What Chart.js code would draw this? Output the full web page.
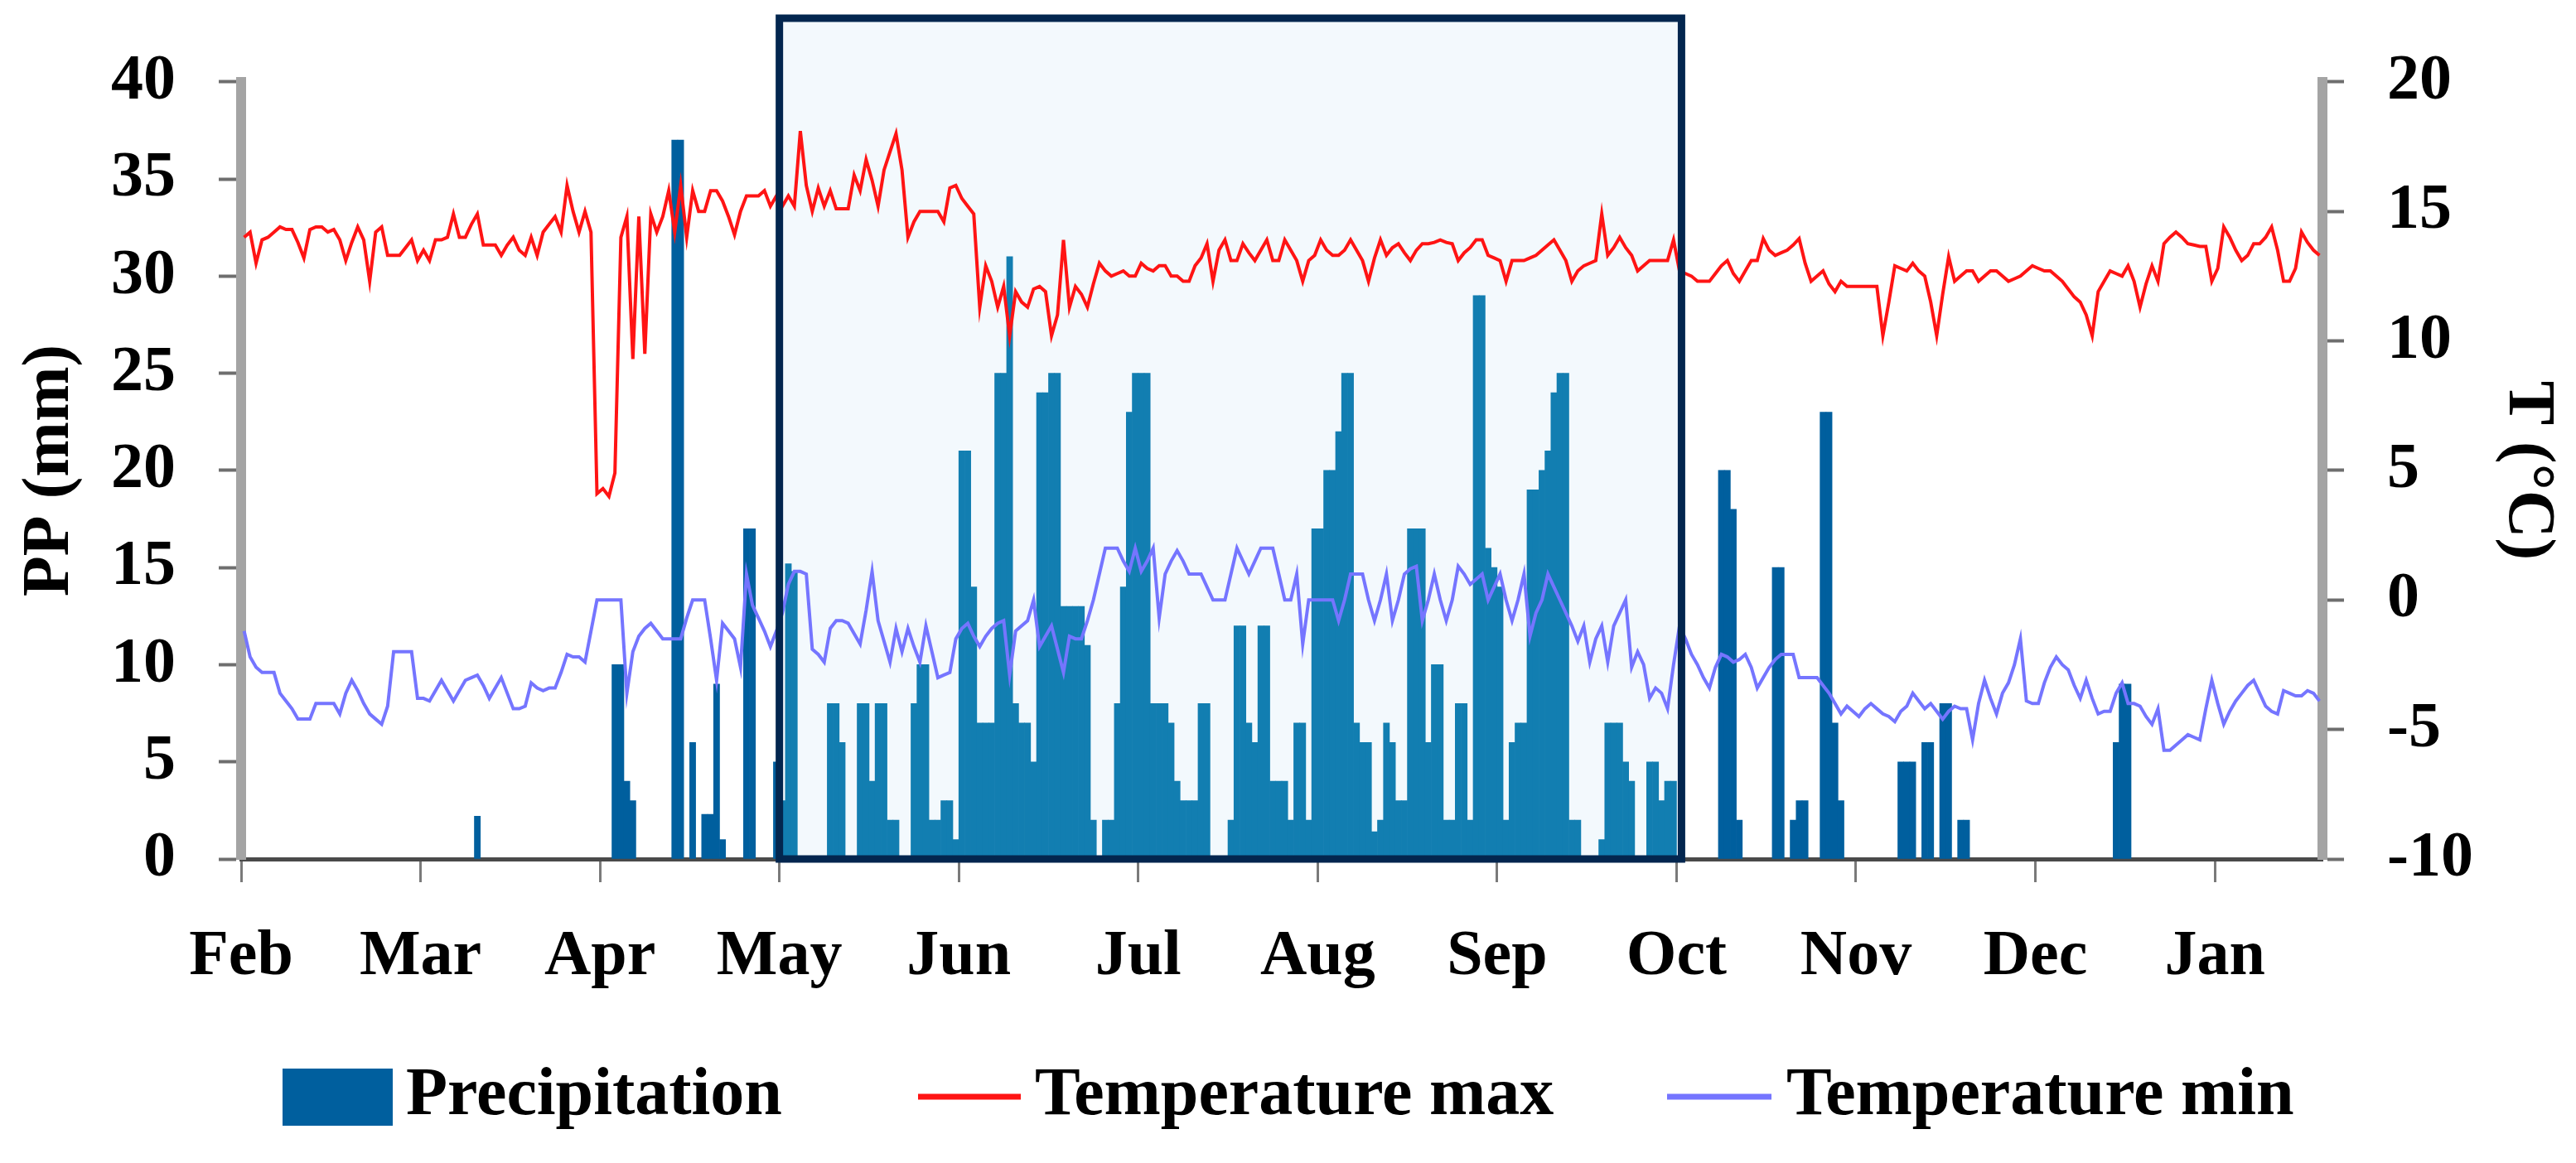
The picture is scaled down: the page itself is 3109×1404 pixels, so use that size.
<!DOCTYPE html>
<html lang="en">
<head>
<meta charset="UTF-8">
<title>Precipitation and temperature</title>
<script src="https://cdn.jsdelivr.net/npm/chart.js"></script>
<style>
  html, body { margin: 0; padding: 0; background: #fff; }
  canvas { display: block; }
</style>
</head>
<body>
<canvas id="climateChart" width="3109" height="1404"></canvas>
<script>
// x axis: one unit per day, a month label every 30 days
const dayCount = 348;
const months = ['Feb', 'Mar', 'Apr', 'May', 'Jun', 'Jul', 'Aug', 'Sep', 'Oct', 'Nov', 'Dec', 'Jan'];
const monthStart = [0, 30, 60, 90, 120, 150, 180, 210, 240, 270, 300, 330];

// highlighted period (May to Oct)
const boxFrom = 90;
const boxTo = 240;

// precipitation, only the days with rain (mm)
const rainDay = [39, 62, 63, 64, 65, 72, 73, 75, 77, 78, 79, 80, 84, 85, 89, 90, 91, 92,
  98, 99, 100, 103, 104, 105, 106, 107, 108, 109, 112, 113, 114, 115, 116, 117, 118, 119,
  120, 121, 122, 123, 124, 125, 126, 127, 128, 129, 130, 131, 132, 133, 134, 135, 136, 137,
  138, 139, 140, 141, 142, 144, 145, 146, 147, 148, 149, 150, 151, 152, 153, 154, 155, 156,
  157, 158, 159, 160, 161, 165, 166, 167, 168, 169, 170, 171, 172, 173, 174, 175, 176, 177,
  178, 179, 180, 181, 182, 183, 184, 185, 186, 187, 188, 189, 190, 191, 192, 193, 194, 195,
  196, 197, 198, 199, 200, 201, 202, 203, 204, 205, 206, 207, 208, 209, 210, 211, 212, 213,
  214, 215, 216, 217, 218, 219, 220, 221, 222, 223, 227, 228, 229, 230, 231, 232, 235, 236,
  237, 238, 239, 247, 248, 249, 250, 256, 257, 259, 260, 261, 264, 265, 266, 267, 277, 278,
  279, 281, 282, 284, 285, 287, 288, 313, 314, 315];
const rainMm = [2.2, 10, 10, 4, 3, 37, 37, 6, 2.3, 2.3, 9, 1, 17, 17, 5, 3, 15.2, 14.8,
  8, 8, 6, 8, 8, 4, 8, 8, 2, 2, 8, 10, 10, 2, 2, 3, 3, 1,
  21, 21, 14, 7, 7, 7, 25, 25, 31, 8, 7, 7, 5, 24, 24, 25, 25, 13,
  13, 13, 13, 11, 2, 2, 2, 8, 14, 23, 25, 25, 25, 8, 8, 8, 7, 4,
  3, 3, 3, 8, 8, 2, 12, 12, 7, 6, 12, 12, 4, 4, 4, 2, 7, 7,
  2, 17, 17, 20, 20, 22, 25, 25, 7, 6, 6, 1.4, 2, 7, 6, 3, 3, 17,
  17, 17, 6, 10, 10, 2, 2, 8, 8, 2, 29, 29, 16, 15, 14, 2, 6, 7,
  7, 19, 19, 20, 21, 24, 25, 25, 2, 2, 1, 7, 7, 7, 5, 4, 5, 5,
  3, 4, 4, 20, 20, 18, 2, 15, 15, 2, 3, 3, 23, 23, 7, 3, 5, 5,
  5, 6, 6, 8, 8, 2, 2, 6, 9, 9];

// daily maximum temperature (°C)
const tMax = [
  14.0, 14.2, 13.0, 13.9, 14.0, 14.2, 14.4, 14.3, 14.3, 13.8,
  13.2, 14.3, 14.4, 14.4, 14.2, 14.3, 13.9, 13.1, 13.8, 14.4,
  13.9, 12.3, 14.2, 14.4, 13.3, 13.3, 13.3, 13.6, 13.9, 13.1,
  13.5, 13.1, 13.9, 13.9, 14.0, 14.9, 14.0, 14.0, 14.5, 14.9,
  13.7, 13.7, 13.7, 13.3, 13.7, 14.0, 13.5, 13.3, 14.0, 13.3,
  14.2, 14.5, 14.8, 14.2, 16.0, 15.0, 14.2, 15.0, 14.2, 4.1,
  4.3, 4.0, 4.9, 14.0, 14.8, 9.3, 14.8, 9.5, 14.9, 14.2,
  14.8, 15.8, 14.2, 16.0, 14.0, 15.8, 15.0, 15.0, 15.8, 15.8,
  15.4, 14.8, 14.1, 15.0, 15.6, 15.6, 15.6, 15.8, 15.2, 15.6,
  15.2, 15.6, 15.2, 18.1, 16.0, 15.0, 15.9, 15.2, 15.8, 15.1,
  15.1, 15.1, 16.4, 15.8, 17.0, 16.2, 15.2, 16.6, 17.3, 18.0,
  16.6, 14.0, 14.6, 15.0, 15.0, 15.0, 15.0, 14.6, 15.9, 16.0,
  15.5, 15.2, 14.9, 11.3, 12.9, 12.3, 11.3, 12.1, 10.2, 11.9,
  11.5, 11.3, 12.0, 12.1, 11.9, 10.2, 11.0, 13.9, 11.3, 12.1,
  11.8, 11.3, 12.2, 13.0, 12.7, 12.5, 12.6, 12.7, 12.5, 12.5,
  13.0, 12.8, 12.7, 12.9, 12.9, 12.5, 12.5, 12.3, 12.3, 12.9,
  13.2, 13.75, 12.3, 13.5, 13.9, 13.1, 13.1, 13.75, 13.4, 13.1,
  13.5, 13.9, 13.1, 13.1, 13.9, 13.5, 13.1, 12.3, 13.1, 13.3,
  13.9, 13.5, 13.3, 13.3, 13.5, 13.9, 13.5, 13.1, 12.3, 13.2,
  13.9, 13.3, 13.6, 13.75, 13.4, 13.1, 13.5, 13.75, 13.75, 13.8,
  13.9, 13.8, 13.75, 13.1, 13.4, 13.6, 13.9, 13.9, 13.3, 13.2,
  13.1, 12.3, 13.1, 13.1, 13.1, 13.2, 13.3, 13.5, 13.7, 13.9,
  13.5, 13.1, 12.3, 12.7, 12.9, 13.0, 13.1, 14.9, 13.3, 13.6,
  14.0, 13.6, 13.3, 12.7, 12.9, 13.1, 13.1, 13.1, 13.1, 13.9,
  12.7, 12.6, 12.5, 12.3, 12.3, 12.3, 12.6, 12.9, 13.1, 12.6,
  12.3, 12.7, 13.1, 13.1, 13.95, 13.5, 13.3, 13.4, 13.5, 13.7,
  13.95, 13.0, 12.3, 12.5, 12.7, 12.2, 11.9, 12.3, 12.1, 12.1,
  12.1, 12.1, 12.1, 12.1, 10.2, 11.5, 12.9, 12.8, 12.7, 13.0,
  12.7, 12.5, 11.5, 10.2, 11.8, 13.25, 12.3, 12.5, 12.7, 12.7,
  12.3, 12.5, 12.7, 12.7, 12.5, 12.3, 12.4, 12.5, 12.7, 12.9,
  12.8, 12.7, 12.7, 12.5, 12.3, 12.0, 11.7, 11.5, 11.0, 10.2,
  11.9, 12.3, 12.7, 12.6, 12.5, 12.9, 12.3, 11.3, 12.2, 12.9,
  12.3, 13.75, 14.0, 14.2, 14.0, 13.75, 13.7, 13.65, 13.65, 12.3,
  12.8, 14.4, 14.0, 13.5, 13.1, 13.3, 13.75, 13.75, 14.0, 14.4,
  13.5, 12.3, 12.3, 12.8, 14.2, 13.8, 13.5, 13.3
];

// daily minimum temperature (°C)
const tMin = [
  -1.2, -2.2, -2.6, -2.8, -2.8, -2.8, -3.6, -3.9, -4.2, -4.6,
  -4.6, -4.6, -4.0, -4.0, -4.0, -4.0, -4.4, -3.6, -3.1, -3.5,
  -4.0, -4.4, -4.6, -4.8, -4.1, -2.0, -2.0, -2.0, -2.0, -3.8,
  -3.8, -3.9, -3.5, -3.1, -3.5, -3.9, -3.5, -3.1, -3.0, -2.9,
  -3.3, -3.8, -3.4, -3.0, -3.6, -4.2, -4.2, -4.1, -3.2, -3.4,
  -3.5, -3.4, -3.4, -2.8, -2.1, -2.2, -2.2, -2.4, -1.2, 0.0,
  0.0, 0.0, 0.0, 0.0, -3.6, -2.0, -1.4, -1.1, -0.9, -1.2,
  -1.5, -1.5, -1.5, -1.5, -0.7, 0.0, 0.0, 0.0, -1.5, -3.1,
  -0.9, -1.2, -1.5, -2.6, 1.0, -0.2, -0.7, -1.2, -1.8, -1.2,
  -0.5, 0.6, 1.1, 1.1, 1.0, -1.9, -2.1, -2.4, -1.1, -0.8,
  -0.8, -0.9, -1.3, -1.7, -0.4, 1.1, -0.8, -1.6, -2.4, -1.1,
  -2.0, -1.1, -1.8, -2.4, -1.0, -2.0, -3.0, -2.9, -2.8, -1.5,
  -1.1, -0.9, -1.4, -1.8, -1.4, -1.1, -0.9, -0.8, -2.9, -1.2,
  -1.0, -0.8, 0.0, -1.8, -1.4, -1.0, -1.9, -2.8, -1.4, -1.5,
  -1.5, -0.8, 0.0, 1.0, 2.0, 2.0, 2.0, 1.5, 1.1, 2.0,
  1.1, 1.5, 2.0, -0.7, 1.0, 1.5, 1.9, 1.5, 1.0, 1.0,
  1.0, 0.5, 0.0, 0.0, 0.0, 1.0, 2.0, 1.5, 1.0, 1.5,
  2.0, 2.0, 2.0, 1.0, 0.0, 0.0, 1.0, -1.7, 0.0, 0.0,
  0.0, 0.0, 0.0, -0.8, 0.0, 1.0, 1.0, 1.0, 0.0, -0.8,
  0.0, 1.0, -0.8, 0.0, 1.0, 1.2, 1.3, -0.8, 0.0, 1.0,
  0.0, -0.8, 0.0, 1.3, 1.0, 0.6, 0.8, 1.0, 0.0, 0.5,
  1.0, 0.0, -0.8, 0.0, 1.0, -1.4, -0.5, 0.0, 1.0, 0.5,
  0.0, -0.5, -1.0, -1.6, -1.0, -2.4, -1.5, -1.0, -2.4, -1.0,
  -0.5, 0.0, -2.6, -2.0, -2.5, -3.8, -3.4, -3.6, -4.2, -2.5,
  -1.0, -1.5, -2.1, -2.5, -3.0, -3.4, -2.6, -2.1, -2.2, -2.4,
  -2.3, -2.1, -2.6, -3.4, -3.0, -2.6, -2.3, -2.1, -2.1, -2.1,
  -3.0, -3.0, -3.0, -3.0, -3.3, -3.6, -4.0, -4.4, -4.1, -4.3,
  -4.5, -4.2, -4.0, -4.2, -4.4, -4.5, -4.7, -4.3, -4.1, -3.6,
  -3.9, -4.2, -4.0, -4.3, -4.6, -4.3, -4.1, -4.2, -4.2, -5.4,
  -4.0, -3.1, -3.8, -4.4, -3.6, -3.2, -2.5, -1.5, -3.9, -4.0,
  -4.0, -3.2, -2.6, -2.2, -2.5, -2.7, -3.3, -3.8, -3.1, -3.8,
  -4.4, -4.3, -4.3, -3.6, -3.2, -4.0, -4.0, -4.1, -4.5, -4.8,
  -4.2, -5.8, -5.8, -5.6, -5.4, -5.2, -5.3, -5.4, -4.2, -3.1,
  -4.0, -4.8, -4.3, -3.9, -3.6, -3.3, -3.1, -3.6, -4.1, -4.3,
  -4.4, -3.5, -3.6, -3.7, -3.7, -3.5, -3.6, -3.9
];

const serif = '"Liberation Serif", "Times New Roman", serif';
const tickFont = { family: serif, size: 78, weight: 'bold' };
const titleFont = { family: serif, size: 80, weight: 'bold' };
const barDark = '#005f9e';
const barLight = '#127eb1';
const redLine = '#ff1414';
const blueLine = '#7575ff';

// light box behind the May-Oct period, dark frame on top of the bars
const highlightBox = {
  id: 'highlightBox',
  beforeDatasetsDraw(chart) {
    const { ctx, chartArea, scales: { x } } = chart;
    const x0 = x.getPixelForValue(boxFrom);
    const x1 = x.getPixelForValue(boxTo) + 6;
    ctx.save();
    ctx.fillStyle = '#f3f9fd';
    ctx.fillRect(x0, 22, x1 - x0, chartArea.bottom - 25);
    ctx.restore();
  },
  afterDatasetsDraw(chart) {
    const { ctx, chartArea, scales: { x } } = chart;
    const x0 = x.getPixelForValue(boxFrom);
    const x1 = x.getPixelForValue(boxTo) + 6;
    ctx.save();
    ctx.strokeStyle = '#03264f';
    ctx.lineWidth = 9;
    ctx.strokeRect(x0, 22, x1 - x0, chartArea.bottom - 22);
    ctx.restore();
  }
};

// legend row under the axis
const bottomLegend = {
  id: 'bottomLegend',
  afterDraw(chart) {
    const ctx = chart.ctx;
    const y = 1324;
    ctx.save();
    ctx.font = 'bold 82px ' + serif;
    ctx.textBaseline = 'middle';
    ctx.textAlign = 'left';

    ctx.fillStyle = barDark;
    ctx.fillRect(341, 1290, 133, 69);
    ctx.fillStyle = '#000';
    ctx.fillText('Precipitation', 490, y);

    ctx.lineWidth = 7;
    ctx.strokeStyle = redLine;
    ctx.beginPath();
    ctx.moveTo(1108, y);
    ctx.lineTo(1232, y);
    ctx.stroke();
    ctx.fillText('Temperature max', 1249, y);

    ctx.strokeStyle = blueLine;
    ctx.beginPath();
    ctx.moveTo(2012, y);
    ctx.lineTo(2138, y);
    ctx.stroke();
    ctx.fillText('Temperature min', 2156, y);
    ctx.restore();
  }
};

const ctx = document.getElementById('climateChart').getContext('2d');
new Chart(ctx, {
  type: 'bar',
  data: {
    datasets: [
      {
        type: 'bar',
        label: 'Precipitation',
        data: rainDay.map((d, i) => ({ x: d + 0.5, y: rainMm[i] })),
        yAxisID: 'y',
        backgroundColor: (c) => (c.raw && c.raw.x > boxFrom && c.raw.x < boxTo) ? barLight : barDark,
        borderWidth: 0,
        barPercentage: 1,
        categoryPercentage: 1,
        order: 2
      },
      {
        type: 'line',
        label: 'Temperature max',
        data: tMax.map((v, i) => ({ x: i + 0.5, y: v })),
        yAxisID: 'y1',
        borderColor: redLine,
        borderWidth: 4,
        pointRadius: 0,
        tension: 0,
        order: 1
      },
      {
        type: 'line',
        label: 'Temperature min',
        data: tMin.map((v, i) => ({ x: i + 0.5, y: v })),
        yAxisID: 'y1',
        borderColor: blueLine,
        borderWidth: 4,
        pointRadius: 0,
        tension: 0,
        order: 0
      }
    ]
  },
  options: {
    responsive: false,
    animation: false,
    events: [],
    layout: { padding: { top: 58, left: 0, right: 0, bottom: 0 } },
    plugins: {
      legend: { display: false },
      tooltip: { enabled: false }
    },
    scales: {
      x: {
        type: 'linear',
        min: 0,
        max: dayCount,
        offset: false,
        afterBuildTicks: (s) => { s.ticks = monthStart.map(v => ({ value: v })); },
        afterFit: (s) => { s.height = 367; },
        ticks: {
          autoSkip: false,
          maxRotation: 0,
          padding: 44,
          color: '#000',
          font: tickFont,
          callback: (v, i) => months[i]
        },
        grid: { offset: false, drawOnChartArea: false, tickLength: 28, tickWidth: 3, tickColor: '#7a7a7a' },
        border: { color: '#4a4a4a', width: 5 }
      },
      y: {
        position: 'left',
        min: 0,
        max: 40,
        afterFit: (s) => { s.width = 291; },
        ticks: { stepSize: 5, padding: 52, color: '#000', font: tickFont },
        grid: { drawOnChartArea: false, tickLength: 27, tickWidth: 4, tickColor: '#6e6e6e' },
        border: { color: '#a4a4a4', width: 12 },
        title: { display: true, text: 'PP (mm)', color: '#000', font: titleFont, padding: { top: 13, bottom: 0 } }
      },
      y1: {
        position: 'right',
        min: -10,
        max: 20,
        afterFit: (s) => { s.width = 306; },
        ticks: { stepSize: 5, padding: 52, color: '#000', font: tickFont },
        grid: { drawOnChartArea: false, tickLength: 26, tickWidth: 4, tickColor: '#6e6e6e' },
        border: { color: '#a4a4a4', width: 12 },
        title: { display: true, text: 'T (°C)', color: '#000', font: titleFont, padding: { top: 11, bottom: 0 } }
      }
    }
  },
  plugins: [highlightBox, bottomLegend]
});
</script>
</body>
</html>
